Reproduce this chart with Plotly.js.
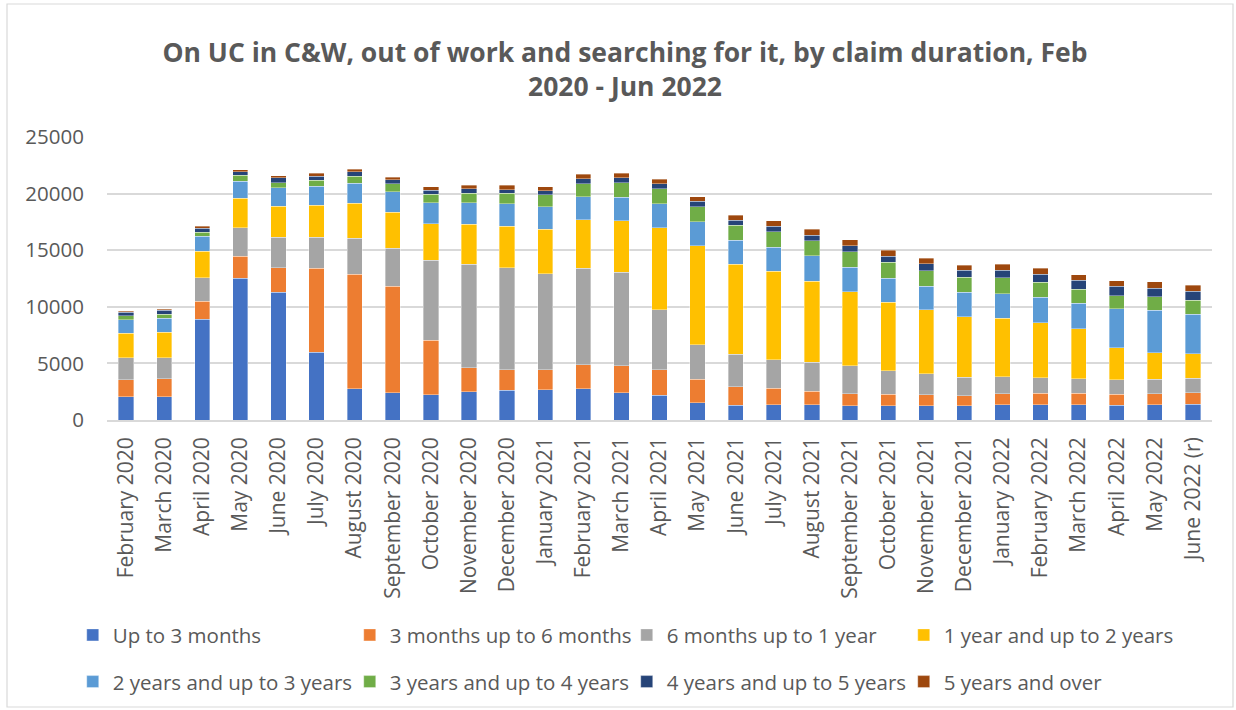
<!DOCTYPE html>
<html>
<head>
<meta charset="utf-8">
<script src="https://cdn.plot.ly/plotly-3.0.1.min.js"></script>
<style>html,body{margin:0;padding:0;background:#fff;}#chart{width:1236px;height:710px;}</style>
</head>
<body>
<div id="chart"></div>
<script>
const months = ["February 2020","March 2020","April 2020","May 2020","June 2020","July 2020","August 2020","September 2020","October 2020","November 2020","December 2020","January 2021","February 2021","March 2021","April 2021","May 2021","June 2021","July 2021","August 2021","September 2021","October 2021","November 2021","December 2021","January 2022","February 2022","March 2022","April 2022","May 2022","June 2022 (r)"];

const seriesNames = ["Up to 3 months","3 months up to 6 months","6 months up to 1 year","1 year and up to 2 years","2 years and up to 3 years","3 years and up to 4 years","4 years and up to 5 years","5 years and over"];

const upTo3m    = [2040,2070,8880,12510,11270,5990,2770,2420,2240,2480,2630,2690,2740,2420,2180,1530,1300,1330,1360,1270,1270,1270,1270,1330,1360,1360,1300,1330,1390];
const m3to6     = [1530,1590,1590,1950,2180,7430,10120,9410,4810,2150,1830,1770,2120,2390,2270,2070,1650,1470,1180,1060,1000,970,890,970,1000,1000,970,1000,1030];
const m6to1y    = [1920,1860,2090,2540,2690,2740,3160,3330,7050,9150,9000,8440,8560,8230,5280,3070,2860,2540,2570,2480,2090,1860,1620,1530,1390,1300,1270,1270,1270];
const y1to2     = [2180,2240,2330,2600,2740,2800,3100,3190,3250,3510,3660,3950,4280,4570,7260,8730,7960,7820,7140,6520,6050,5630,5340,5160,4840,4400,2830,2360,2180];
const y2to3     = [1180,1240,1330,1500,1620,1710,1770,1800,1830,1890,1980,1980,2010,2070,2100,2120,2120,2120,2240,2150,2120,2100,2150,2180,2240,2270,3450,3720,3480];
const y3to4     = [350,350,380,500,470,530,620,710,770,860,940,1060,1180,1270,1360,1330,1300,1360,1360,1390,1390,1360,1330,1390,1330,1210,1150,1210,1240];
const y4to5     = [300,330,320,330,410,350,380,350,350,380,320,350,410,440,410,470,440,470,470,530,530,620,620,650,710,800,830,770,770];
const y5plus    = [120,120,180,180,180,240,210,240,300,320,380,380,410,410,410,410,470,470,530,530,560,500,470,560,530,500,500,560,560];

const allSeries = [upTo3m, m3to6, m6to1y, y1to2, y2to3, y3to4, y4to5, y5plus];
const colors = ["#4472C4","#ED7D31","#A5A5A5","#FFC000","#5B9BD5","#70AD47","#264478","#9E480E"];

const traces = allSeries.map((vals, i) => ({
  type: 'bar',
  name: seriesNames[i],
  x: months,
  y: vals,
  marker: {color: colors[i], line: {color: 'rgba(255,255,255,0.6)', width: 0.6}},
  legend: i < 4 ? 'legend' : 'legend2',
  hoverinfo: 'x+y+name'
}));

const fam = '"Open Sans", "Noto Sans", sans-serif';
const legendCommon = {
  orientation: 'h',
  font: {family: fam, size: 20.5, color: '#595959'},
  entrywidth: 232,
  entrywidthmode: 'pixels',
  xanchor: 'left',
  yanchor: 'middle',
  bgcolor: 'rgba(0,0,0,0)',
  itemclick: false,
  itemdoubleclick: false,
  traceorder: 'normal'
};

const layout = {
  width: 1236,
  height: 710,
  paper_bgcolor: '#ffffff',
  plot_bgcolor: '#ffffff',
  margin: {l: 107, r: 24, t: 137, b: 290, autoexpand: false},
  barmode: 'stack',
  bargap: 0.6,
  title: {
    text: '<b>On UC in C&W, out of work and searching for it, by claim duration, Feb<br>2020 - Jun 2022</b>',
    font: {family: fam, size: 26.5, color: '#595959'},
    x: 625 / 1236, xanchor: 'center', xref: 'container',
    y: 1 - 62 / 710, yanchor: 'middle', yref: 'container'
  },
  xaxis: {
    type: 'category',
    tickangle: -90,
    tickfont: {family: fam, size: 21, color: '#595959'},
    showgrid: false,
    showline: true,
    linecolor: '#d9d9d9',
    linewidth: 1.5,
    ticks: 'outside',
    ticklen: 7,
    tickcolor: 'rgba(0,0,0,0)',
    automargin: false
  },
  yaxis: {
    range: [0, 25000],
    dtick: 5000,
    tick0: 0,
    tickformat: 'd',
    tickfont: {family: fam, size: 20.5, color: '#595959'},
    showgrid: true,
    gridcolor: '#d9d9d9',
    gridwidth: 1.5,
    zeroline: false,
    showline: false,
    ticks: 'outside',
    ticklen: 18,
    tickcolor: 'rgba(0,0,0,0)',
    automargin: false
  },
  legend: Object.assign({}, legendCommon, {x: -0.031, y: -0.76}),
  legend2: Object.assign({}, legendCommon, {x: -0.031, y: -0.925}),
  shapes: [{
    type: 'rect', xref: 'paper', yref: 'paper',
    x0: (7 - 107) / 1105, x1: (1233 - 107) / 1105,
    y0: (420 - 707) / 283, y1: (420 - 4) / 283,
    line: {color: '#d9d9d9', width: 1.2}, fillcolor: 'rgba(0,0,0,0)', layer: 'below'
  }]
};

Plotly.newPlot('chart', traces, layout, {displayModeBar: false});
</script>
</body>
</html>
